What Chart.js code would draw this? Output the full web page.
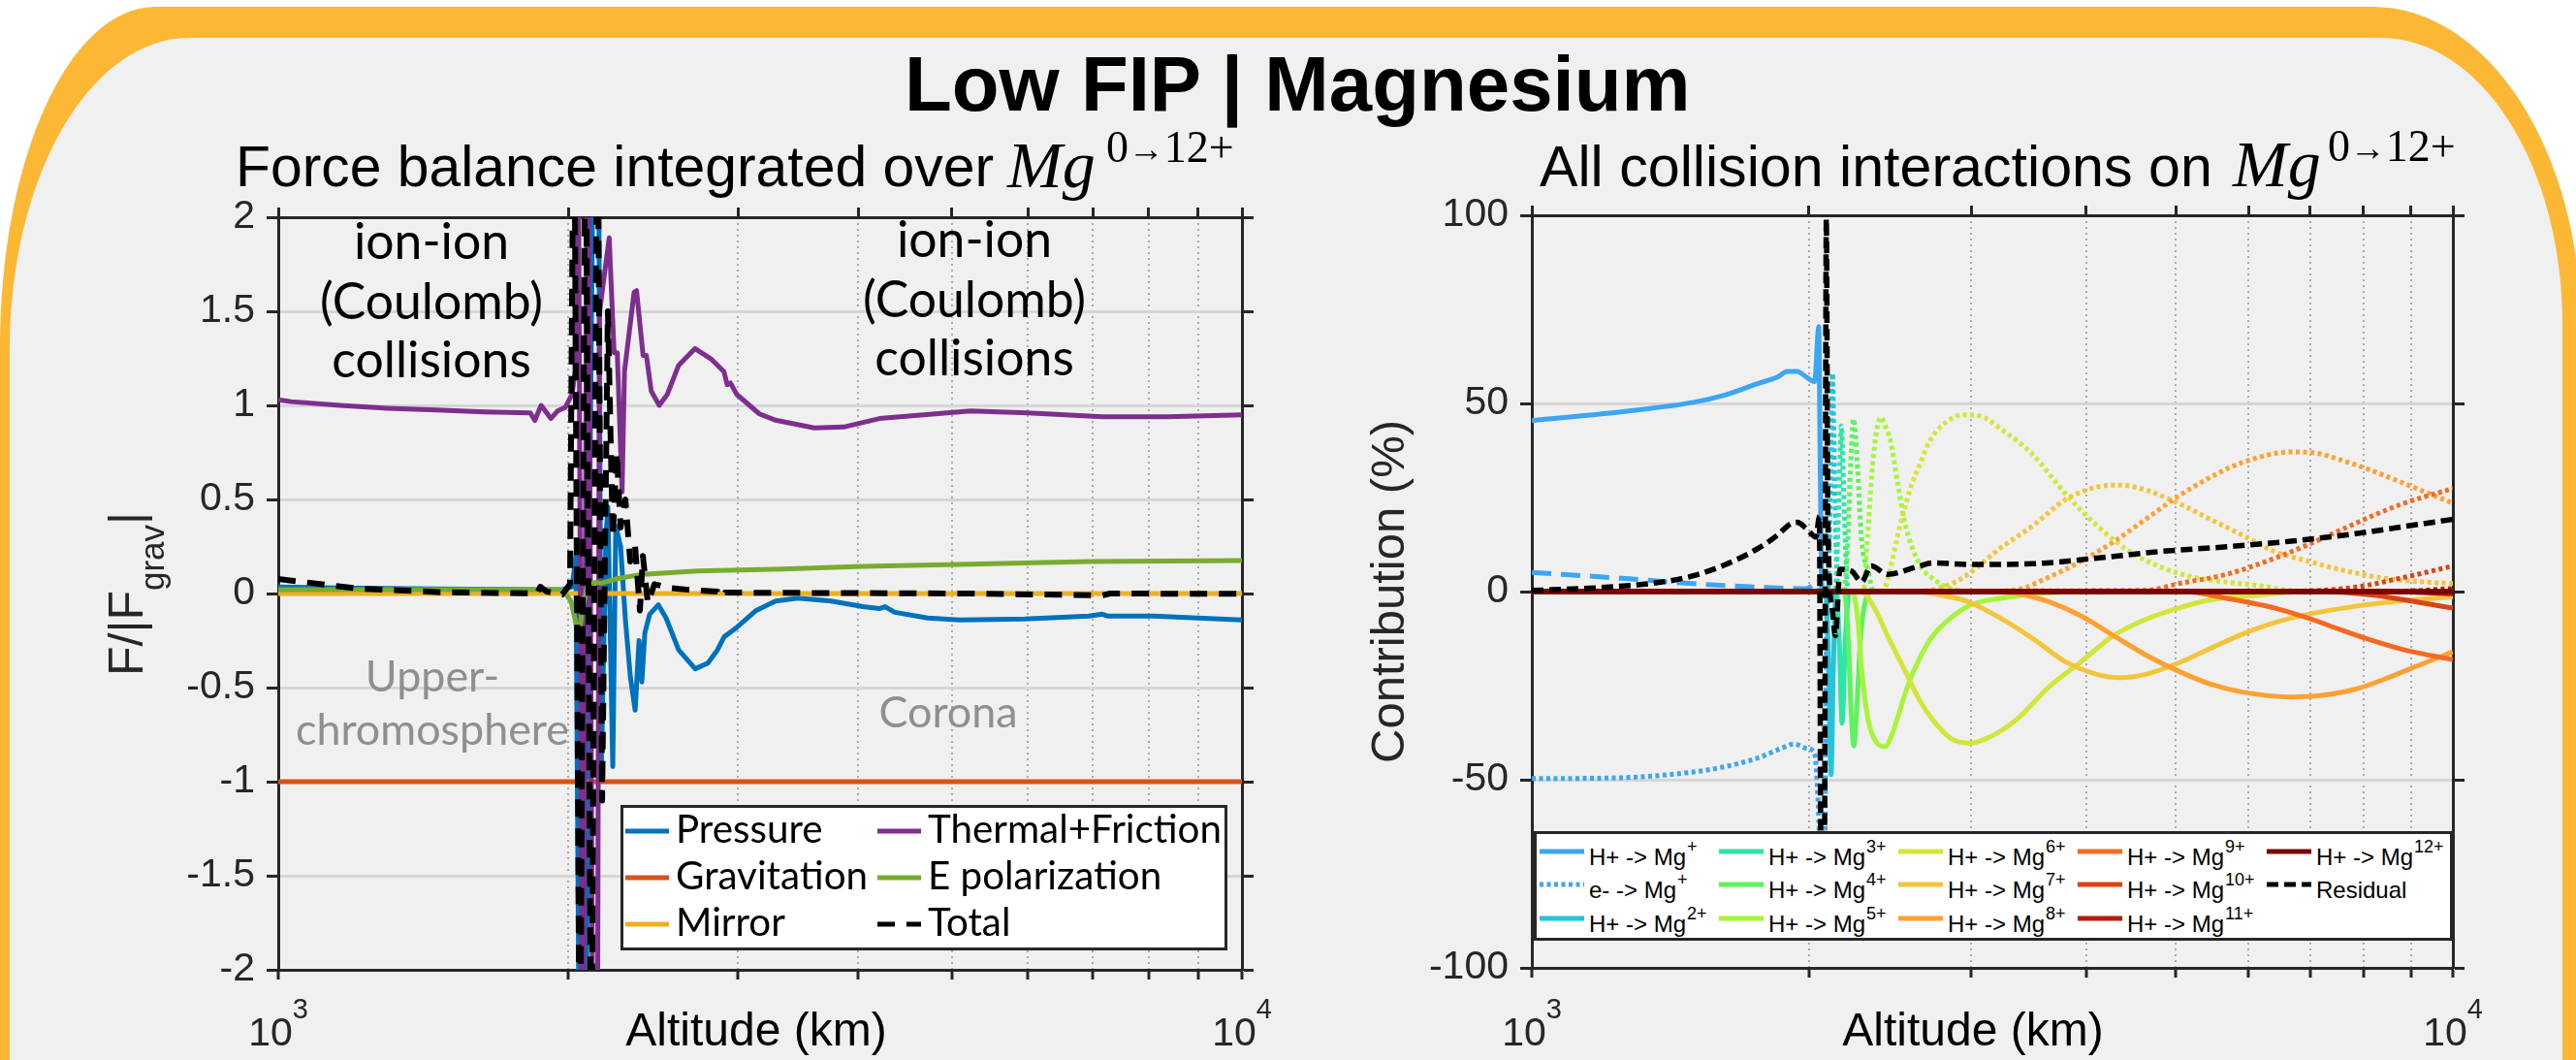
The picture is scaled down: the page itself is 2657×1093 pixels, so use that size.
<!DOCTYPE html>
<html><head><meta charset="utf-8">
<script src="https://cdn.jsdelivr.net/npm/chart.js@4.4.1/dist/chart.umd.min.js"></script>
<style>
html,body{margin:0;padding:0;background:#fff;width:2657px;height:1093px;overflow:hidden;position:relative;}
#outer{position:absolute;left:0;top:7px;width:2662px;height:1300px;background:#FCB834;border-top-left-radius:160px 350px;border-top-right-radius:215px 330px;}
#inner{position:absolute;left:10px;top:39px;width:2633px;height:1300px;background:#F0F0F0;border-top-left-radius:185px 320px;border-top-right-radius:187px 295px;}
canvas{position:absolute;}
.t{position:absolute;white-space:nowrap;margin:0;padding:0;}
.legend{position:absolute;background:#fff;border:3px solid #262626;box-sizing:border-box;}
</style></head><body>
<div id="outer"></div><div id="inner"></div>
<canvas id="cL" width="1330" height="893" style="left:0;top:200px"></canvas>
<canvas id="cR" width="1327" height="893" style="left:1330px;top:200px"></canvas>
<script>
// ---------------- DATA (altitude km, value) ----------------
// Left panel: force balance F/|Fgrav|
const pressure = [[1000,0.035],[1159,0.03],[1459,0.025],[1839,0.02],[1971,0.02],[2018,0.035],[2036,0.2],[2056,-3],[2084,-3],[2103,0.3],[2128,3],[2148,3],[2163,-0.98],[2188,0.3],[2198,0.46],[2224,-0.92],[2240,0.36],[2266,0.25],[2292,-0.14],[2319,-0.44],[2346,-0.62],[2368,-0.25],[2384,-0.47],[2401,-0.21],[2429,-0.11],[2480,-0.06],[2526,-0.13],[2603,-0.30],[2708,-0.40],[2791,-0.37],[2856,-0.30],[2902,-0.23],[2991,-0.18],[3133,-0.09],[3282,-0.04],[3461,-0.025],[3745,-0.04],[4043,-0.07],[4205,-0.08],[4262,-0.07],[4363,-0.10],[4721,-0.13],[5095,-0.14],[5953,-0.135],[6936,-0.12],[7164,-0.11],[7264,-0.12],[8098,-0.12],[10000,-0.14]];
const gravitation = [[1000,-1],[10000,-1]];
const mirror = [[1000,0],[10000,0]];
const thermalFriction = [[1000,1.03],[1031,1.02],[1159,1.0],[1299,0.985],[1459,0.975],[1638,0.965],[1826,0.96],[1846,0.92],[1874,1.0],[1918,0.93],[1949,0.97],[1986,0.99],[2018,1.06],[2032,1.18],[2046,3],[2070,-3],[2094,3],[2123,-3],[2143,-3],[2154,1.49],[2205,1.89],[2231,1.28],[2248,1.28],[2274,0.54],[2287,1.18],[2340,1.60],[2354,1.61],[2391,1.265],[2410,1.265],[2438,1.076],[2485,1.0],[2533,1.058],[2603,1.213],[2706,1.302],[2812,1.247],[2901,1.179],[2923,1.11],[2946,1.119],[2991,1.058],[3157,0.955],[3282,0.921],[3600,0.88],[3860,0.885],[4205,0.93],[5228,0.97],[5994,0.96],[7164,0.94],[8367,0.94],[10000,0.95]];
const ePolarization = [[1000,0.02],[1971,0.02],[2013,-0.04],[2052,-0.24],[2065,-0.1],[2094,0.05],[2138,0.06],[2163,0.055],[2251,0.08],[2373,0.10],[2526,0.11],[2727,0.12],[3336,0.13],[4043,0.144],[5095,0.155],[6936,0.17],[10000,0.175]];
const totalForce = [[1000,0.077],[1212,0.026],[1472,0.007],[1857,0],[1870,0.036],[1900,0.01],[1971,-0.005],[2008,0.05],[2027,3],[2056,-3],[2084,3],[2113,-3],[2143,3],[2168,-1.1],[2198,1.5],[2224,0.3],[2245,0.75],[2266,0.35],[2292,0.5],[2319,0.17],[2346,0.25],[2373,-0.09],[2390,0.2],[2418,-0.05],[2457,0.05],[2544,0.03],[2665,0.02],[2856,0.01],[2883,-0.02],[2907,0.005],[5215,0],[7164,-0.01],[7298,0],[10000,-0.002]];

// Right panel: collision contributions (%)
const hMg1 = [[1000,45.4],[1274,48.0],[1497,50.3],[1624,52.3],[1761,55.3],[1848,57.0],[1894,58.5],[1941,58.5],[1987,57.0],[2028,55.8],[2049,70.4],[2056,35],[2066,0],[10000,0]];
const eMg1 = [[1000,-49.7],[1239,-49.5],[1401,-48.7],[1585,-47.0],[1755,-44.3],[1869,-41.6],[1927,-40.5],[1985,-41.6],[2028,-43.0],[2045,-55],[2060,-75],[2078,-75],[2092,0],[10000,0]];
const hMg1Dashed = [[1000,5.1],[1274,3.4],[1497,2.1],[1761,1.2],[1987,0.8],[2035,2.1],[2055,0],[10000,0]];
const residual = [[1000,0.3],[1175,1.0],[1381,2.5],[1497,4.2],[1624,7.2],[1761,11.5],[1848,15.0],[1909,18.0],[1941,18.4],[1987,16.7],[2035,14.5],[2052,20],[2060,-70],[2078,-70],[2088,99],[2096,20],[2120,-5],[2136,-11.7],[2161,5.9],[2225,5.4],[2280,2.6],[2336,6.8],[2433,4.6],[2637,6.8],[2723,7.6],[3000,7.2],[3499,7.4],[4108,8.9],[4832,10.7],[5680,11.9],[6673,13.4],[7850,15.4],[8859,17.3],[10000,19.2]];
const h2s = [[1000,0],[2085,0],[2100,-20],[2113,-48.6],[2125,-20],[2140,0],[10000,0]];
const h2d = [[1000,0],[2095,0],[2110,30],[2120,58],[2132,30],[2150,0],[10000,0]];
const h3s = [[1000,0],[2140,0],[2158,-15],[2172,-35],[2188,-15],[2210,0],[10000,0]];
const h3d = [[1000,0],[2135,0],[2155,25],[2168,44],[2185,20],[2205,0],[10000,0]];
const h4s = [[1000,0],[2185,0],[2205,-12],[2222,-32],[2237,-41],[2252,-32],[2275,-12],[2300,-3],[2340,0],[10000,0]];
const h4d = [[1000,0],[2180,0],[2200,10],[2220,35],[2235,45.9],[2255,35],[2280,14],[2318,5.5],[2350,0],[10000,0]];
const h5s = [[1000,0],[2230,0],[2260,-8],[2280,-20.3],[2318,-34],[2365,-40],[2417,-41.2],[2460,-38],[2491,-34],[2560,-25],[2637,-17.7],[2720,-12],[2812,-8.2],[3000,-3.5],[3227,-1.8],[3527,-0.6],[4000,0],[10000,0]];
const h5d = [[1000,0],[2290,0],[2315,15],[2340,31.3],[2365,42],[2393,46.3],[2420,44],[2452,39.9],[2495,29],[2540,18.4],[2637,7.2],[2745,2.9],[2850,0.8],[3100,0],[10000,0]];
const h6s = [[1000,0],[2280,0],[2350,-4],[2433,-11.7],[2530,-20],[2637,-28.9],[2723,-34],[2850,-39],[2994,-40.3],[3150,-38.5],[3360,-34],[3640,-25.4],[3950,-18.6],[4281,-11.7],[4638,-7.4],[5032,-4.4],[5456,-2.2],[6160,-0.9],[6953,0],[10000,0]];
const h6d = [[1000,0],[2400,0],[2433,3],[2491,14],[2573,27],[2640,34],[2702,39.9],[2800,44.5],[2940,47],[3080,46.5],[3227,43.3],[3499,36.4],[3793,26.1],[4108,17.5],[4460,10.6],[4833,6.4],[5235,3.8],[5682,2.5],[6160,1.6],[6674,0.3],[7500,0],[10000,0]];
const h7s = [[1000,0],[2600,0],[2856,-1.5],[2976,-2.7],[3224,-7],[3499,-12.5],[3793,-18.6],[4108,-22],[4351,-22.9],[4638,-22],[5032,-19],[5456,-15.1],[5908,-11.3],[6413,-8.2],[6953,-6.1],[7848,-3.9],[8859,-2.4],[10000,-1.4]];
const h7d = [[1000,0],[2600,0],[2856,2.1],[2976,4.6],[3224,11.5],[3499,17.5],[3793,24.4],[4108,27.8],[4351,28.3],[4638,27],[5032,23.5],[5456,19.2],[5908,15],[6413,10.6],[6953,8.1],[7530,5.9],[8502,3.4],[10000,2.1]];
const h8s = [[1000,0],[3000,0],[3360,-0.5],[3640,-2.7],[3950,-6.5],[4281,-11.7],[4638,-16.8],[5032,-21.1],[5456,-24.6],[5908,-26.7],[6674,-28],[7200,-27.6],[7848,-25.9],[8502,-22.9],[9225,-19.4],[10000,-16]];
const h8d = [[1000,0],[3000,0],[3360,0.5],[3640,3.8],[3950,8.1],[4281,13.2],[4638,19.2],[5032,25.3],[5456,30.4],[5908,34.3],[6674,37.1],[7100,36.8],[7530,35.1],[8174,32.1],[8859,28.7],[10000,23.5]];
const h9s = [[1000,0],[5100,0],[5682,-1.8],[6413,-4.4],[6953,-7],[7530,-10],[8174,-13],[8859,-15.5],[10000,-18.1]];
const h9d = [[1000,0],[4638,0.3],[5032,2.1],[5682,4.6],[6413,8.9],[6953,12.4],[7530,16.2],[8174,20.1],[8859,23.5],[10000,27.4]];
const h10s = [[1000,0],[7100,0],[8174,-0.9],[8859,-2.2],[10000,-4.4]];
const h10d = [[1000,0],[6674,0.1],[7848,1.2],[8859,3.8],[10000,6.8]];
const h11s = [[1000,0],[8500,0],[10000,-0.6]];
const h11d = [[1000,0],[8500,0],[10000,0.8]];
const h12s = [[1000,0],[10000,0]];

// axis ticks
const xGridTicks = [1000,2000,3000,4000,5000,6000,7000,8000,9000,10000];
const xMajorTicks = [1000, 10000];
const leftYTicks = {min:-2, max:2, step:0.5};
const rightYTicks = {min:-100, max:100, step:50};

// ---------------- helpers ----------------
const SANS='"Liberation Sans", Arial, Helvetica, sans-serif';
const SERIF='"Liberation Serif", "Times New Roman", serif';
const GILL='Lato, "Open Sans", sans-serif';
const mctx=document.createElement('canvas').getContext('2d');
function fstr(o,size){return `${o.style||'normal'} ${o.weight||'normal'} ${size}px ${o.family}`;}
function measure(text,o,size){mctx.font=fstr(o,size);return mctx.measureText(text);}
function addText(parent,text,o){
  let size=o.size; let m=measure(text,o,size);
  if(o.fitWidth){size=size*o.fitWidth/m.width;m=measure(text,o,size);}
  const A=m.fontBoundingBoxAscent,D=m.fontBoundingBoxDescent;
  const d=document.createElement('div');d.className='t';d.textContent=text;
  d.style.font=fstr(o,size);d.style.lineHeight=size+'px';d.style.color=o.color||'#000';
  let left=o.x; if(o.align==='center')left-=m.width/2; else if(o.align==='right')left-=m.width;
  d.style.left=left+'px'; d.style.top=(o.y-((size-(A+D))/2+A))+'px';
  parent.appendChild(d); return {width:m.width,size};
}
function group(x,y,rot){const g=document.createElement('div');g.style.cssText=`position:absolute;left:${x}px;top:${y}px;width:0;height:0;transform:rotate(${rot}deg);transform-origin:0 0;`;document.body.appendChild(g);return g;}
function fitSize(text,o,w){return o.size*w/measure(text,o,o.size).width;}

function ds(label,pts,color,extra){
  return Object.assign({label,data:pts.map(([x,y])=>({x,y})),borderColor:color,backgroundColor:color,borderWidth:5,pointRadius:0,fill:false,tension:0,borderDash:[],borderCapStyle:'butt',borderJoinStyle:'round'},extra||{});
}

const expTicks={id:'expTicks',afterDraw(chart){
  const ctx=chart.ctx,sx=chart.scales.x,base=chart.options.plugins.expTicks.baseline;
  ctx.save();ctx.fillStyle='#262626';ctx.textAlign='left';ctx.textBaseline='alphabetic';
  xMajorTicks.forEach(v=>{
    const px=sx.getPixelForValue(v),e=String(Math.round(Math.log10(v)));
    ctx.font='41px '+SANS;const w1=ctx.measureText('10').width;
    ctx.font='29px '+SANS;const w2=ctx.measureText(e).width;
    const x0=px-(w1+w2)/2;
    ctx.font='41px '+SANS;ctx.fillText('10',x0,base);
    ctx.font='29px '+SANS;ctx.fillText(e,x0+w1,base-28);
  });
  ctx.restore();
}};

function noPad(s){s.paddingTop=0;s.paddingBottom=0;s.paddingLeft=0;s.paddingRight=0;}
function fmt(v){const r=Math.round(v*100)/100;return Math.abs(r)<1e-9?'0':String(r);}

function makeChart(id,datasets,yt,box,smooth){
  const AX='#262626';
  const setX=s=>{s.ticks=xGridTicks.map(v=>({value:v}));};
  return new Chart(document.getElementById(id),{
    type:'line',data:{datasets},
    options:{responsive:false,animation:false,devicePixelRatio:1,layout:{padding:0},
      elements:{line:{cubicInterpolationMode:smooth?'monotone':'default'}},
      plugins:{legend:{display:false},tooltip:{enabled:false},expTicks:{baseline:box.base}},
      scales:{
        x:{type:'logarithmic',position:'bottom',min:1000,max:10000,afterBuildTicks:setX,afterFit:s=>{s.height=box.bottom;noPad(s);},
          ticks:{autoSkip:false,maxRotation:0,minRotation:0,callback:()=>''},
          grid:{color:c=>(c.tick&&(c.tick.value<=1000||c.tick.value>=10000))?'rgba(0,0,0,0)':'#ababab',lineWidth:2,tickLength:10,tickColor:AX,tickWidth:3,tickBorderDash:[]},
          border:{color:AX,width:3,dash:[2,4]}},
        x2:{type:'logarithmic',position:'top',min:1000,max:10000,afterBuildTicks:setX,afterFit:s=>{s.height=box.top;noPad(s);},
          ticks:{autoSkip:false,maxRotation:0,minRotation:0,callback:()=>''},
          grid:{drawOnChartArea:false,tickLength:10,tickColor:AX,tickWidth:3},border:{color:AX,width:3}},
        y:{type:'linear',position:'left',min:yt.min,max:yt.max,afterFit:s=>{s.width=box.left;noPad(s);},
          ticks:{stepSize:yt.step,font:{family:'"Liberation Sans"',size:41},color:AX,padding:12,callback:fmt},
          grid:{color:c=>(c.tick&&Math.abs(c.tick.value)>=yt.max)?'rgba(0,0,0,0)':'#d6d6d6',lineWidth:3,tickLength:12,tickColor:AX,tickWidth:3},
          border:{color:AX,width:3}},
        y2:{type:'linear',position:'right',min:yt.min,max:yt.max,afterFit:s=>{s.width=box.right;noPad(s);},
          ticks:{stepSize:yt.step,callback:()=>''},
          grid:{drawOnChartArea:false,tickLength:12,tickColor:AX,tickWidth:3},border:{color:AX,width:3}}
      }},
    plugins:[expTicks]
  });
}

// ---------------- LEFT CHART ----------------
const colL={pressure:'#0072BD',grav:'#D95319',mirror:'#EDB120',thermal:'#7E2F8E',epol:'#77AC30',total:'#000000'};
const dsPressure=ds('Pressure',pressure,colL.pressure);
const dsGrav=ds('Gravitation',gravitation,colL.grav);
const dsMirror=ds('Mirror',mirror,colL.mirror);
const dsThermal=ds('Thermal+Friction',thermalFriction,colL.thermal);
const dsEpol=ds('E polarization',ePolarization,colL.epol);
const dsTotal=ds('Total',totalForce,colL.total,{borderWidth:6,borderDash:[18,12]});
makeChart('cL',[dsTotal,dsEpol,dsThermal,dsMirror,dsGrav,dsPressure],leftYTicks,{left:287,right:49,top:24,bottom:93,base:878},false);

// ---------------- RIGHT CHART ----------------
const col={m1:'#3CA6F3',m2:'#24C5DA',m3:'#2CE5A7',m4:'#5EF25C',m5:'#A7F43A',m6:'#D4E53A',m7:'#F3C53D',m8:'#FEA134',m9:'#F46A20',m10:'#DB4315',m11:'#B21F0B',m12:'#7A0403'};
const DOT=[4,3.5];
const dsRes=ds('Residual',residual,'#000',{borderWidth:5.5,borderDash:[12,6]});
const dsH1=ds('H+ -> Mg+',hMg1,col.m1);
const dsE1=ds('e- -> Mg+',eMg1,col.m1,{borderDash:DOT});
const dsH1d=ds('',hMg1Dashed,col.m1,{borderDash:[20,10]});
const sol={},dot={};
[[2,h2s,h2d],[3,h3s,h3d],[4,h4s,h4d],[5,h5s,h5d],[6,h6s,h6d],[7,h7s,h7d],[8,h8s,h8d],[9,h9s,h9d],[10,h10s,h10d],[11,h11s,h11d]].forEach(([k,s,d])=>{
  sol[k]=ds('H+ -> Mg'+k+'+',s,col['m'+k]);
  dot[k]=ds('',d,col['m'+k],{borderDash:DOT});
});
sol[12]=ds('H+ -> Mg12+',h12s,col.m12,{borderWidth:5.5});
const rightSets=[dsRes,sol[12]];
for(let k=11;k>=2;k--){rightSets.push(sol[k]);rightSets.push(dot[k]);}
rightSets.push(dsH1d,dsE1,dsH1);
makeChart('cR',rightSets,rightYTicks,{left:250,right:127,top:22,bottom:95,base:878},true);

// ---------------- TEXT ----------------
const B=document.body;
function supMg(x,y,size){
  let w=addText(B,'0',{x,y,size,family:SERIF}).width;
  w+=addText(B,'\u2192',{x:x+w,y,size:size*0.8,family:SERIF}).width;
  addText(B,'12+',{x:x+w,y,size,family:SERIF});
}
addText(B,'Low FIP | Magnesium',{x:1339,y:114,size:79,weight:'bold',family:SANS,align:'center',fitWidth:812});
addText(B,'Force balance integrated over',{x:243,y:193,size:57,family:SANS,fitWidth:782});
addText(B,'Mg',{x:1039,y:193,size:68,style:'italic',family:SERIF});
supMg(1141,167,46);
addText(B,'All collision interactions on',{x:1588,y:192,size:57,family:SANS,fitWidth:694});
addText(B,'Mg',{x:2303,y:192,size:68,style:'italic',family:SERIF});
supMg(2401,166,46);
addText(B,'Altitude (km)',{x:780,y:1078,size:48,family:SANS,align:'center'});
addText(B,'Altitude (km)',{x:2035,y:1078,size:48,family:SANS,align:'center'});
// y labels
(function(){
  const g=group(147,697,-90);
  const w1=addText(g,'F/|F',{x:0,y:0,size:50,family:SANS,color:'#262626'}).width;
  const w2=addText(g,'grav',{x:w1,y:22,size:35,family:SANS,color:'#262626'}).width;
  addText(g,'|',{x:w1+w2,y:0,size:50,family:SANS,color:'#262626'});
  const g2=group(1448,610,-90);
  addText(g2,'Contribution (%)',{x:0,y:0,size:49,family:SANS,align:'center',color:'#262626'});
})();
// annotations
const annO={size:46,family:GILL};
const annS=fitSize('(Coulomb)',annO,230);
[[445,[268,330,390]],[1005,[266,328,388]]].forEach(([cx,bl])=>{
  ['ion-ion','(Coulomb)','collisions'].forEach((t,i)=>addText(B,t,{x:cx,y:bl[i],size:annS,family:GILL,align:'center'}));
});
const grayS=fitSize('chromosphere',annO,282);
addText(B,'Upper-',{x:446,y:713,size:grayS,family:GILL,align:'center',color:'#8f8f8f'});
addText(B,'chromosphere',{x:446,y:768,size:grayS,family:GILL,align:'center',color:'#8f8f8f'});
addText(B,'Corona',{x:978,y:750,size:grayS,family:GILL,align:'center',color:'#8f8f8f'});

// ---------------- LEGENDS ----------------
function sample(parent,x,y,len,d){
  const dash=(d.borderDash||[]).join(' ');
  parent.insertAdjacentHTML('beforeend',`<svg width="${len}" height="14" style="position:absolute;left:${x}px;top:${y-7}px;overflow:visible"><line x1="0" y1="7" x2="${len}" y2="7" stroke="${d.borderColor}" stroke-width="${Math.min(d.borderWidth,5)}" ${dash?`stroke-dasharray="${dash}"`:''}/></svg>`);
}
function legend(box,entries,cfg){
  const L=document.createElement('div');L.className='legend';
  Object.assign(L.style,{left:box.left+'px',top:box.top+'px',width:box.w+'px',height:box.h+'px'});
  B.appendChild(L);
  entries.forEach((e,i)=>{
    const c=Math.floor(i/cfg.rows),r=i%cfg.rows;
    const sx=cfg.colX[c]-box.left-3,sy=cfg.rowY[r]-box.top-3;
    sample(L,sx,sy,cfg.len,e.ds);
    const w=addText(L,e.text,{x:sx+cfg.textDx,y:sy+cfg.baseDy,size:cfg.size,family:cfg.family}).width;
    if(e.sup)addText(L,e.sup,{x:sx+cfg.textDx+w+1,y:sy+cfg.baseDy-cfg.supRaise,size:cfg.supSize,family:cfg.family});
  });
}
const legO={size:40,family:GILL};
legend({left:640,top:830,w:626,h:150},
  [{ds:dsPressure,text:'Pressure'},{ds:dsGrav,text:'Gravitation'},{ds:dsMirror,text:'Mirror'},
   {ds:dsThermal,text:'Thermal+Friction'},{ds:dsEpol,text:'E polarization'},{ds:dsTotal,text:'Total'}],
  {rows:3,colX:[645,905],rowY:[857,905,953],len:45,textDx:52,baseDy:13,size:fitSize('Thermal+Friction',legO,303),family:GILL});
legend({left:1582,top:857,w:948,h:113},
  [{ds:dsH1,text:'H+ -> Mg',sup:'+'},{ds:dsE1,text:'e- -> Mg',sup:'+'},{ds:sol[2],text:'H+ -> Mg',sup:'2+'},
   {ds:sol[3],text:'H+ -> Mg',sup:'3+'},{ds:sol[4],text:'H+ -> Mg',sup:'4+'},{ds:sol[5],text:'H+ -> Mg',sup:'5+'},
   {ds:sol[6],text:'H+ -> Mg',sup:'6+'},{ds:sol[7],text:'H+ -> Mg',sup:'7+'},{ds:sol[8],text:'H+ -> Mg',sup:'8+'},
   {ds:sol[9],text:'H+ -> Mg',sup:'9+'},{ds:sol[10],text:'H+ -> Mg',sup:'10+'},{ds:sol[11],text:'H+ -> Mg',sup:'11+'},
   {ds:sol[12],text:'H+ -> Mg',sup:'12+'},{ds:dsRes,text:'Residual'}],
  {rows:3,colX:[1588,1773,1958,2143,2338],rowY:[878,912,947],len:46,textDx:51,baseDy:14,size:24,supSize:18,supRaise:13,family:SANS});
</script></body></html>
